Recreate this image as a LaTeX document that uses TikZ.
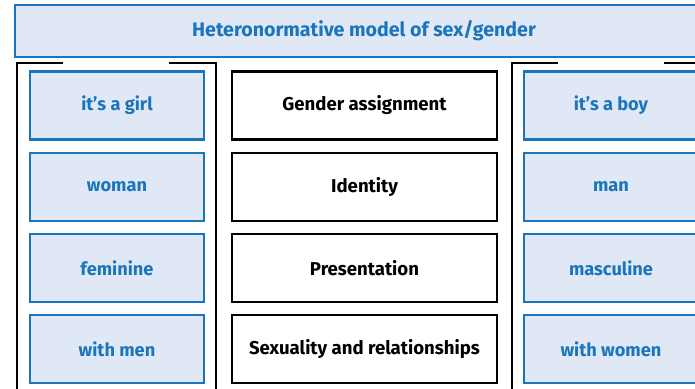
\documentclass[tikz,border=0pt]{standalone}
\usepackage{fontspec}
\setmainfont{Fira Sans}
\definecolor{bblue}{HTML}{1A75BC}
\definecolor{bfill}{HTML}{E0E8F5}
\begin{document}
\begin{tikzpicture}[x=1pt,y=-1pt,
  bluebox/.style={draw=bblue,fill=bfill,line width=2.6pt,minimum width=174pt,minimum height=68pt,inner sep=0pt,text=bblue,font=\fontsize{18.2}{21}\selectfont\bfseries},
  blackbox/.style={draw=black,line width=2.6pt,minimum width=265pt,minimum height=68pt,inner sep=0pt,text=black,font=\fontsize{18.6}{21}\selectfont\bfseries},
  bracket/.style={draw=black,line width=2.2pt}]
\useasboundingbox (0,0) rectangle (695,388);
\clip (0,0) rectangle (695,388);
\node[draw=bblue,fill=bfill,line width=2.6pt,minimum width=698pt,minimum height=52pt,inner sep=0pt,text=bblue,font=\fontsize{19.6}{22}\selectfont\bfseries] (title) at (364,31) {Heteronormative model of sex/gender};
% brackets
\coordinate (l1) at (63,63); \coordinate (l2) at (17,63); \coordinate (l3) at (17,389.6); \coordinate (l4) at (63,389.6);
\coordinate (l5) at (169,63); \coordinate (l6) at (216,63); \coordinate (l7) at (216,389.6); \coordinate (l8) at (169,389.6);
\draw[bracket] (l1) -- (l2) -- (l3) -- (l4);
\draw[bracket] (l5) -- (l6) -- (l7) -- (l8);
\coordinate (r1) at (558,63); \coordinate (r2) at (512,63); \coordinate (r3) at (512,389.6); \coordinate (r4) at (558,389.6);
\coordinate (r5) at (664,63); \coordinate (r6) at (712,63); \coordinate (r7) at (712,389.6); \coordinate (r8) at (664,389.6);
\draw[bracket] (r1) -- (r2) -- (r3) -- (r4);
\draw[bracket] (r5) -- (r6) -- (r7) -- (r8);
% left
\node[bluebox] (girl) at (117,105.5) {it’s a girl};
\node[bluebox] (woman) at (117,187) {woman};
\node[bluebox] (feminine) at (117,268) {feminine};
\node[bluebox] (withmen) at (117,349) {with men};
% middle
\node[blackbox] (assign) at (364.5,105.5) {Gender assignment};
\node[blackbox] (identity) at (364.5,187) {Identity};
\node[blackbox] (present) at (364.5,268) {Presentation};
\node[blackbox] (sexuality) at (364.5,349) {Sexuality and relationships};
% right
\node[bluebox] (boy) at (611,105.5) {it’s a boy};
\node[bluebox] (man) at (611,187) {man};
\node[bluebox] (masculine) at (611,268) {masculine};
\node[bluebox] (withwomen) at (611,349) {with women};
\end{tikzpicture}
\end{document}
